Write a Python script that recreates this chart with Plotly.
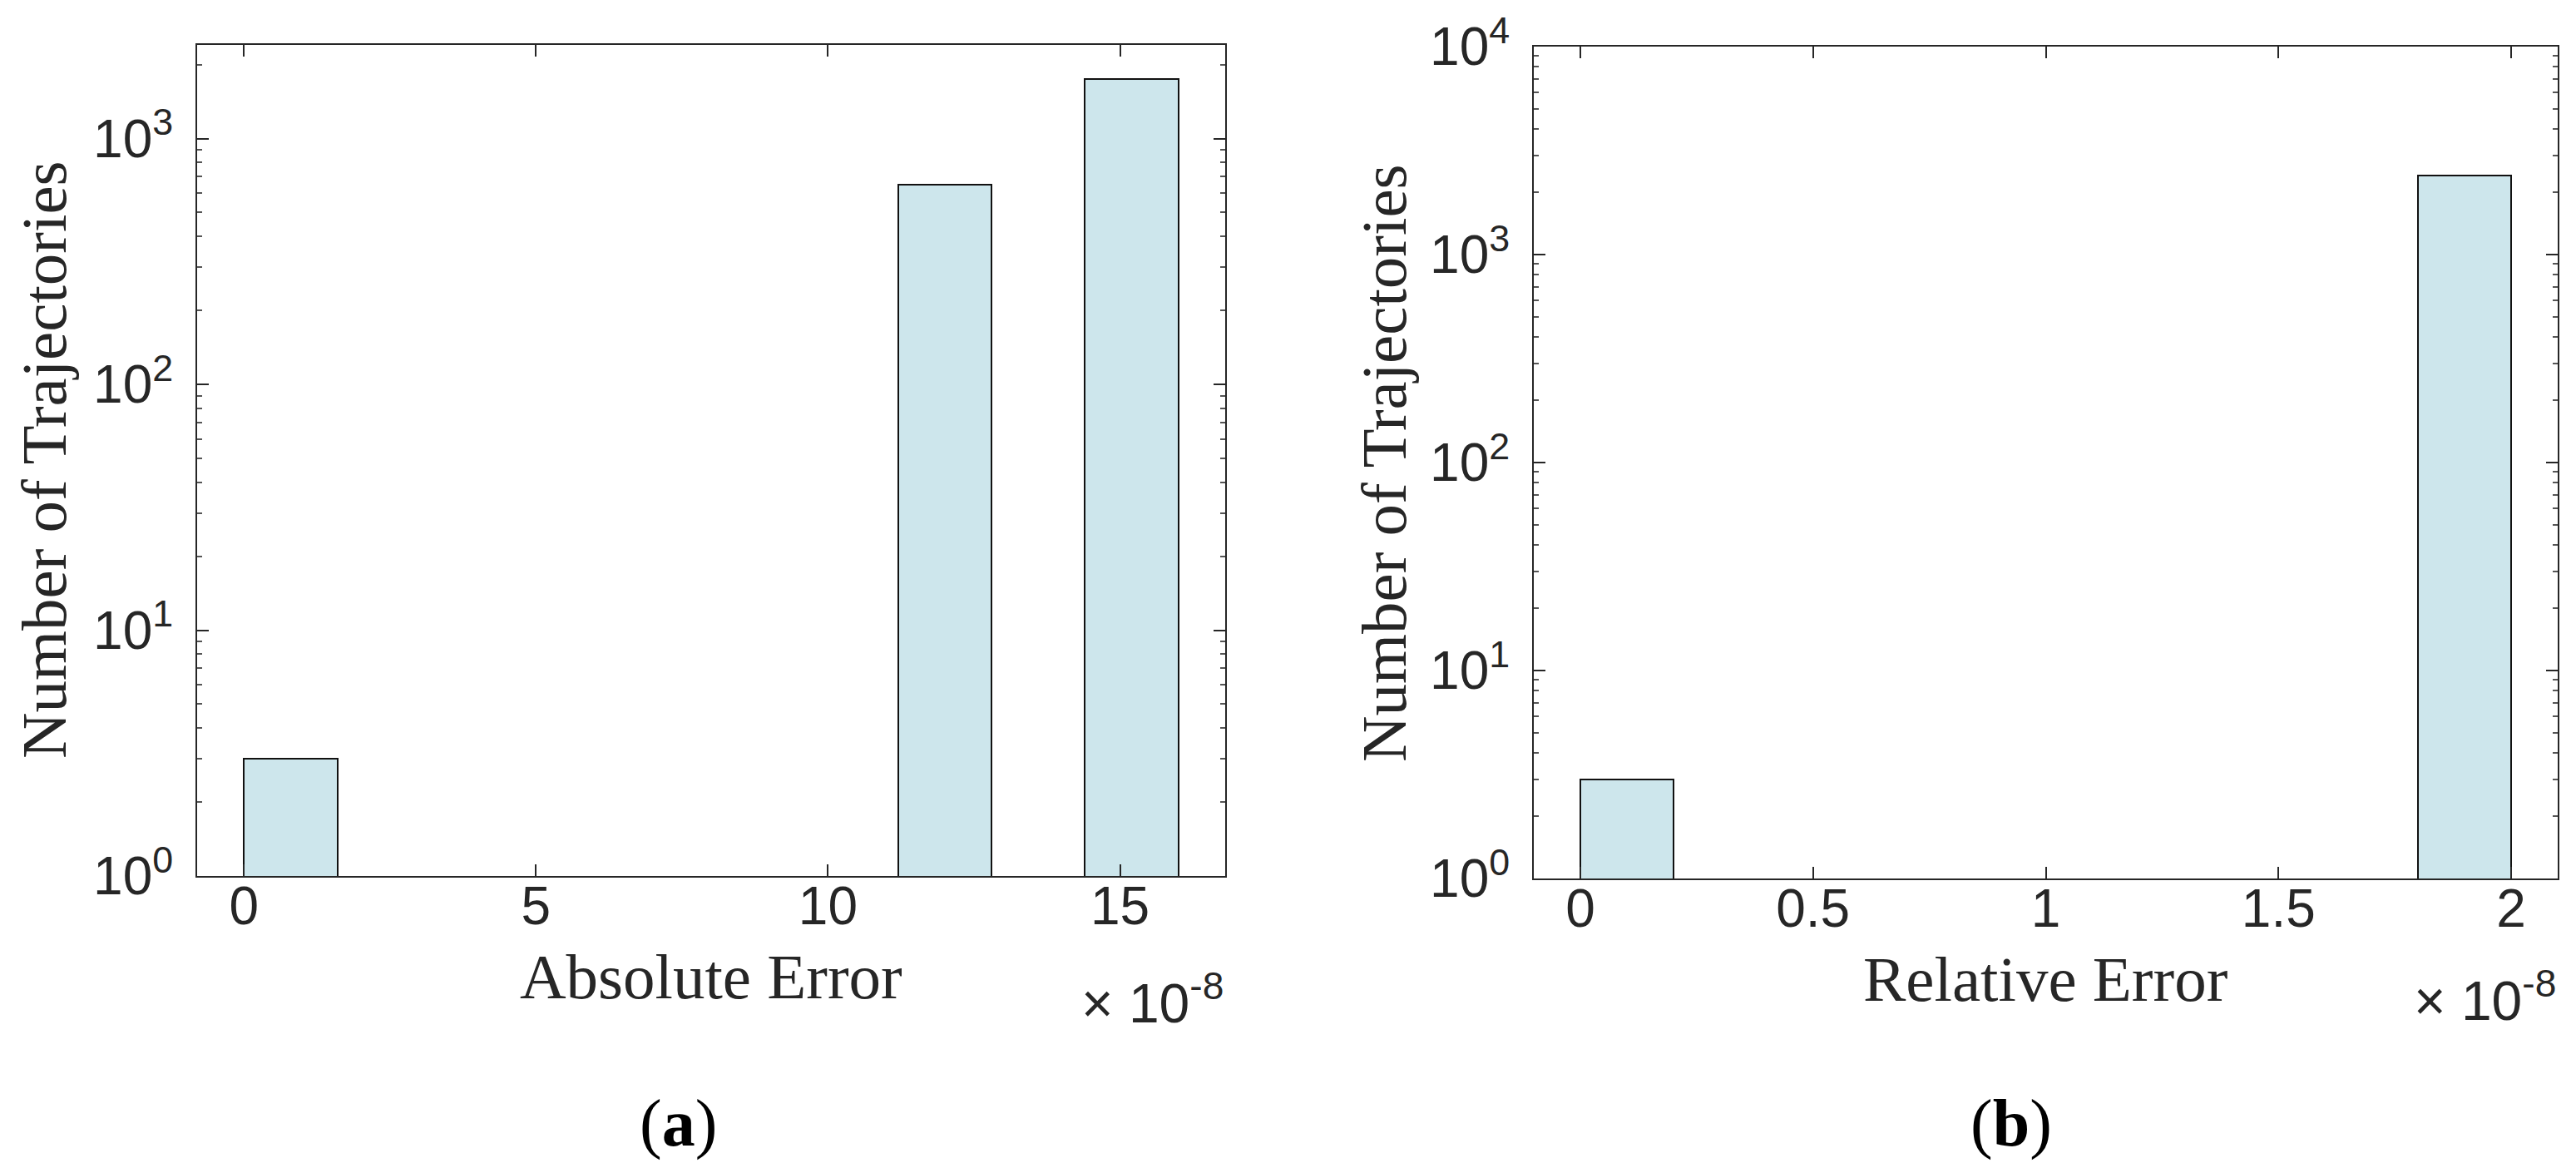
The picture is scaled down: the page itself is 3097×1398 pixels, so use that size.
import math
import plotly.graph_objects as go

# ---------------- data ----------------
abs_bin_centers = [0.8, 12.0, 15.2]      # x 1e-8
abs_bin_width = 1.6
abs_counts = [3, 650, 1750]

rel_bin_centers = [0.1, 1.9]             # x 1e-8
rel_bin_width = 0.2
rel_counts = [3, 2400]

abs_xticks = [0, 5, 10, 15]
abs_xticklabels = ["0", "5", "10", "15"]
rel_xticks = [0, 0.5, 1, 1.5, 2]
rel_xticklabels = ["0", "0.5", "1", "1.5", "2"]

abs_yticks = [1, 10, 100, 1000]
abs_yticklabels = ["10<sup>0</sup>", "10<sup>1</sup>", "10<sup>2</sup>", "10<sup>3</sup>"]
rel_yticks = [1, 10, 100, 1000, 10000]
rel_yticklabels = ["10<sup>0</sup>", "10<sup>1</sup>", "10<sup>2</sup>", "10<sup>3</sup>", "10<sup>4</sup>"]

minor_mult = [2, 3, 4, 5, 6, 7, 8, 9]
decades = [1, 10, 100, 1000]

abs_xrange = [-0.8, 16.8]
rel_xrange = [-0.1, 2.1]
abs_ymax = sum(abs_counts)
rel_ymax = 10000

# ---------------- style ----------------
W, H = 3097, 1398
BAR_FILL = "#CDE6EC"
AX = "#262626"
TICK_FONT = dict(family="Liberation Sans, Arial, sans-serif", size=64, color=AX)
SERIF = "Liberation Serif, Times New Roman, serif"

minor_vals = [m * d for d in decades for m in minor_mult]


def px(x):
    return x / W


def py(y):
    return (H - y) / H


fig = go.Figure()
fig.add_trace(go.Bar(x=abs_bin_centers, y=abs_counts, width=abs_bin_width,
                     marker=dict(color=BAR_FILL, line=dict(color="#111111", width=2)),
                     xaxis="x", yaxis="y", showlegend=False))
fig.add_trace(go.Bar(x=rel_bin_centers, y=rel_counts, width=rel_bin_width,
                     marker=dict(color=BAR_FILL, line=dict(color="#111111", width=2)),
                     xaxis="x2", yaxis="y2", showlegend=False))

common_x = dict(showline=True, linecolor=AX, linewidth=2, mirror="ticks",
                ticks="inside", ticklen=14, tickwidth=2, tickcolor=AX,
                showgrid=False, zeroline=False, tickfont=TICK_FONT,
                automargin=False, ticklabelstandoff=-21)
common_y = dict(type="log", showline=True, linecolor=AX, linewidth=2, mirror="ticks",
                ticks="inside", ticklen=14, tickwidth=2, tickcolor=AX,
                showgrid=False, zeroline=False, tickfont=TICK_FONT,
                automargin=False, ticklabelstandoff=14,
                minor=dict(ticks="inside", ticklen=6, tickwidth=2, tickcolor="#555555",
                           tickvals=minor_vals, showgrid=False))

fig.update_layout(
    width=W, height=H,
    margin=dict(l=0, r=0, t=0, b=0),
    paper_bgcolor="white", plot_bgcolor="white",
    bargap=0,
    xaxis=dict(common_x, domain=[px(229), px(1465)], range=abs_xrange,
               tickvals=abs_xticks, ticktext=abs_xticklabels, anchor="y"),
    yaxis=dict(common_y, domain=[py(1045), py(46)], range=[0, math.log10(abs_ymax)],
               tickvals=abs_yticks, ticktext=abs_yticklabels, anchor="x"),
    xaxis2=dict(common_x, domain=[px(1836), px(3067)], range=rel_xrange,
                tickvals=rel_xticks, ticktext=rel_xticklabels, anchor="y2"),
    yaxis2=dict(common_y, domain=[py(1048), py(48)], range=[0, math.log10(rel_ymax)],
                tickvals=rel_yticks, ticktext=rel_yticklabels, anchor="x2"),
)

TITLE_FONT = dict(family=SERIF, size=77, color=AX)
ann = []
ann.append(dict(text="Absolute Error", x=px(847), y=py(1166), xref="paper", yref="paper",
                xanchor="center", yanchor="middle", showarrow=False, font=TITLE_FONT))
ann.append(dict(text="Relative Error", x=px(2451), y=py(1169), xref="paper", yref="paper",
                xanchor="center", yanchor="middle", showarrow=False, font=TITLE_FONT))
ann.append(dict(text="Number of Trajectories", x=px(45), y=py(545), xref="paper", yref="paper",
                xanchor="center", yanchor="middle", showarrow=False, textangle=-90,
                font=TITLE_FONT))
ann.append(dict(text="Number of Trajectories", x=px(1656), y=py(548), xref="paper", yref="paper",
                xanchor="center", yanchor="middle", showarrow=False, textangle=-90,
                font=TITLE_FONT))
EXP_FONT = dict(family="Liberation Sans, Arial, sans-serif", size=66, color=AX)
ann.append(dict(text="\u00d7 10<sup>-8</sup>", x=px(1465), y=py(1193), xref="paper", yref="paper",
                xanchor="right", yanchor="middle", showarrow=False, font=EXP_FONT))
ann.append(dict(text="\u00d7 10<sup>-8</sup>", x=px(3067), y=py(1190), xref="paper", yref="paper",
                xanchor="right", yanchor="middle", showarrow=False, font=EXP_FONT))
ann.append(dict(text="(<b>a</b>)", x=px(807), y=py(1342), xref="paper", yref="paper",
                xanchor="center", yanchor="middle", showarrow=False,
                font=dict(family=SERIF, size=80, color="black")))
ann.append(dict(text="(<b>b</b>)", x=px(2410), y=py(1342), xref="paper", yref="paper",
                xanchor="center", yanchor="middle", showarrow=False,
                font=dict(family=SERIF, size=80, color="black")))
fig.update_layout(annotations=ann)

fig.write_html("out.html")
